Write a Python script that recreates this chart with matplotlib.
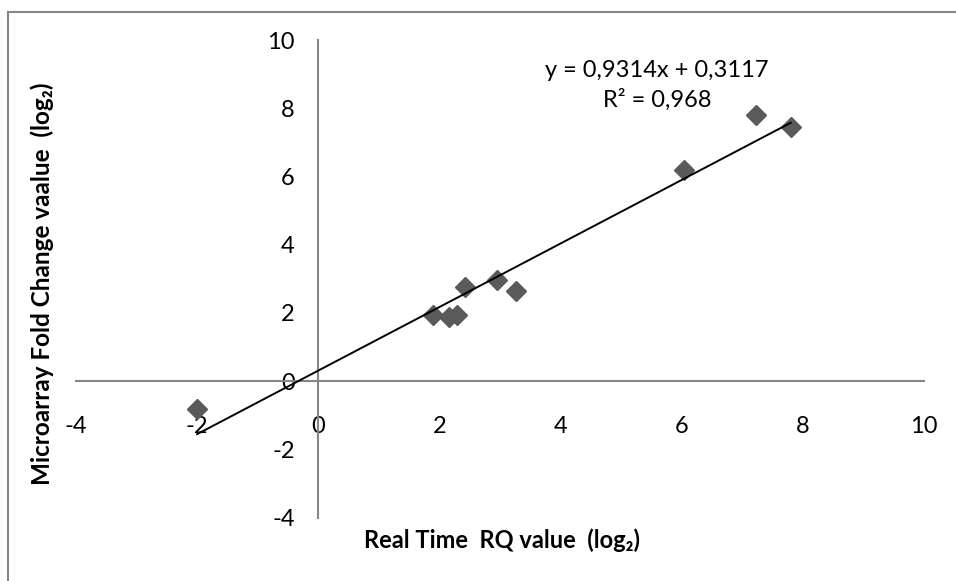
import numpy as np
import matplotlib.pyplot as plt
from matplotlib.lines import Line2D

plt.rcParams['font.family'] = ['Lato', 'DejaVu Sans']
plt.rcParams['axes.unicode_minus'] = False

# RQ (real time PCR) vs microarray fold change, both log2
rq_log2 = [-2.0, 1.90, 2.15, 2.29, 2.43, 2.95, 3.27, 6.04, 7.22, 7.80]
microarray_log2 = [-0.80, 1.94, 1.89, 1.95, 2.76, 2.97, 2.64, 6.20, 7.79, 7.44]

slope = 0.9314
intercept = 0.3117
r_squared = 0.968

x_ticks = [-4, -2, 0, 2, 4, 6, 8, 10]
y_ticks = [-4, -2, 0, 2, 4, 6, 8, 10]

axis_grey = '#868686'
marker_grey = '#5a5a5a'

fig = plt.figure(figsize=(9.56, 5.81), dpi=100)
ax = fig.add_axes([0.0795, 0.109, 0.887, 0.822])

ax.plot(rq_log2, microarray_log2, linestyle='none', marker='D',
        markersize=10.5, color=marker_grey, zorder=3)

# linear trendline over the data range
xs = np.array([min(rq_log2), max(rq_log2)])
ax.plot(xs, slope * xs + intercept, color='black', linewidth=1.4, zorder=4)

ax.set_xlim(-4, 10)
ax.set_ylim(-4, 10)
ax.set_xticks(x_ticks)
ax.set_yticks(y_ticks)

# axes cross at the origin
ax.spines['left'].set_position(('data', 0))
ax.spines['bottom'].set_position(('data', 0))
ax.spines['top'].set_visible(False)
ax.spines['right'].set_visible(False)
for side in ['left', 'bottom']:
    ax.spines[side].set_color(axis_grey)
    ax.spines[side].set_linewidth(1.5)

ax.tick_params(axis='both', length=0, labelsize=17, labelcolor='black')
ax.tick_params(axis='y', pad=17)
ax.tick_params(axis='x', pad=25)

ax.set_xlabel('Real Time  RQ value  (log\u2082)', fontsize=17, fontweight='bold')
ax.set_ylabel('Microarray Fold Change vaalue  (log\u2082)', fontsize=17.5, fontweight='bold')
ax.xaxis.set_label_coords(0.502, -0.047)
ax.xaxis.label.set_verticalalignment('center')
ax.yaxis.set_label_coords(-0.040, 0.490)
ax.yaxis.label.set_verticalalignment('center')

ax.text(0.685, 0.937, f'y = {slope:.4f}x + {intercept:.4f}'.replace('.', ','),
        transform=ax.transAxes, ha='center', va='center', fontsize=17)
ax.text(0.685, 0.874, f'R\u00b2 = {r_squared:.3f}'.replace('.', ','),
        transform=ax.transAxes, ha='center', va='center', fontsize=17)

# chart area border (top and left edges)
border_x = 8.3 / 956
border_y = 1 - 12.3 / 581
fig.add_artist(Line2D([border_x, 1], [border_y, border_y], color=axis_grey,
                      linewidth=1.5, transform=fig.transFigure))
fig.add_artist(Line2D([border_x, border_x], [0, border_y], color=axis_grey,
                      linewidth=1.5, transform=fig.transFigure))

fig.savefig('out.png', dpi=100)
